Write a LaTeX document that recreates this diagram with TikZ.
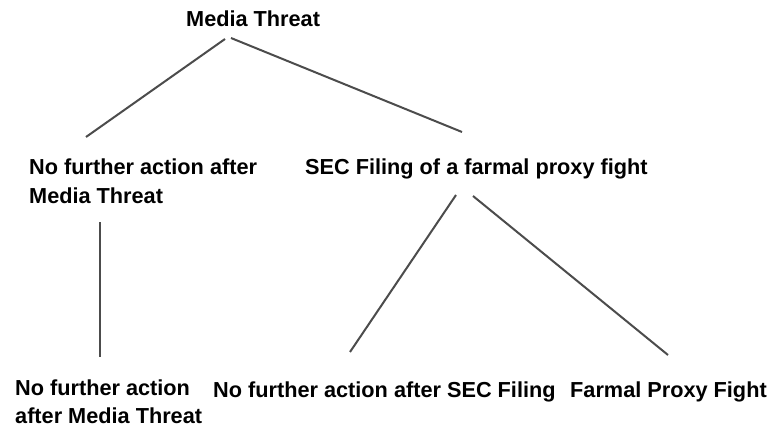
\documentclass[tikz,border=0pt]{standalone}
\usepackage{fontspec}
\setmainfont{Liberation Sans}
\usepackage{tikz}

\begin{document}
\begin{tikzpicture}[x=1pt, y=-1pt,
    txt/.style={inner sep=0pt, anchor=base west, align=left,
        font=\fontsize{21.7}{28.5}\selectfont\bfseries},
    branch/.style={draw=black!70, line width=2pt}]
    \useasboundingbox (0,0) rectangle (772,428);

    % Nodes {root, middle, leaves} (base = last line)
    \node [txt] (root)       at (186,27)    {Media Threat};
    \node [txt] (nomedia)    at (29,203)    {No further action after\\Media Threat};
    \node [txt] (secfiling)  at (305,175)   {SEC Filing of a farmal proxy fight};
    \node [txt] (nomediaend) at (15,423.5)  {No further action\\after Media Threat};
    \node [txt] (nosec)      at (213,397)   {No further action after SEC Filing};
    \node [txt] (proxyfight) at (570,397)   {Farmal Proxy Fight};

    % Line ends
    \coordinate (rootL) at (225,39);
    \coordinate (rootR) at (231,38);
    \coordinate (nomediaT) at (86,137);
    \coordinate (secT) at (462,132);
    \coordinate (nomediaB) at (100,222);
    \coordinate (nomediaendT) at (100,357);
    \coordinate (secBL) at (456,195);
    \coordinate (secBR) at (473,196);
    \coordinate (nosecT) at (350,352);
    \coordinate (proxyfightT) at (668,355);

    % Paths
    \path [branch] (rootL) -- (nomediaT);
    \path [branch] (rootR) -- (secT);
    \path [branch] (nomediaB) -- (nomediaendT);
    \path [branch] (secBL) -- (nosecT);
    \path [branch] (secBR) -- (proxyfightT);
\end{tikzpicture}
\end{document}
